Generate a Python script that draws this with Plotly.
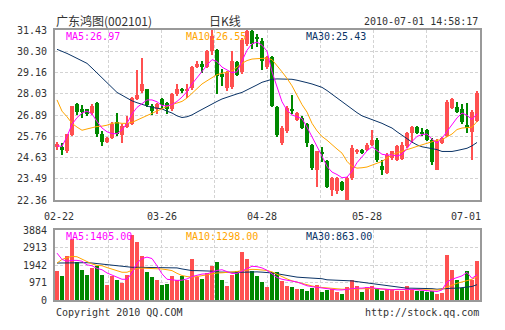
import plotly.graph_objects as go

# ---------------- data ----------------
date_labels = ['02-22', '03-26', '04-28', '05-28', '07-01']
date_label_idx = [0, 21, 41, 62, 84]

opens = [25.21, 25.21, 24.95, 25.83, 27.46, 27.19, 27.19, 27.01, 27.55, 25.89,
         25.46, 25.67, 26.52, 25.85, 26.27, 26.40, 27.73, 28.17, 28.26, 27.40,
         27.19, 27.73, 27.53, 27.19, 27.99, 28.30, 28.15, 28.32, 29.46, 29.64,
         29.43, 30.29, 30.36, 29.07, 28.35, 28.40, 29.70, 29.20, 30.68, 31.40,
         31.05, 30.86, 29.44, 29.98, 27.30, 25.40, 26.03, 27.22, 26.65, 26.76,
         26.40, 25.28, 23.97, 24.88, 24.42, 22.90, 22.85, 23.34, 22.38, 23.52,
         24.90, 25.04, 25.04, 25.31, 25.58, 24.15, 23.79, 24.60, 24.51, 24.55,
         25.22, 25.94, 26.24, 25.99, 26.12, 25.58, 23.97, 25.40, 25.76, 27.28,
         27.32, 27.19, 26.38, 26.00, 26.56]
highs = [25.46, 25.40, 25.90, 27.40, 27.55, 27.41, 27.22, 27.46, 27.60, 26.03,
         25.72, 26.50, 26.98, 26.40, 26.83, 27.85, 29.28, 29.96, 28.30, 27.49,
         27.55, 27.80, 27.60, 28.08, 28.53, 28.35, 28.53, 29.50, 29.78, 29.78,
         30.35, 31.43, 30.40, 29.34, 29.25, 30.30, 29.75, 31.00, 31.43, 31.43,
         31.20, 31.00, 30.05, 30.05, 27.40, 26.30, 27.35, 27.95, 27.05, 26.85,
         26.45, 25.35, 25.00, 25.20, 24.50, 23.60, 23.60, 23.40, 23.60, 25.30,
         25.10, 25.10, 25.40, 26.12, 25.65, 24.50, 24.85, 25.00, 25.30, 25.45,
         26.00, 26.30, 26.30, 26.20, 26.15, 25.65, 25.60, 25.72, 27.70, 27.80,
         27.60, 27.50, 27.55, 27.15, 28.15]
lows = [25.01, 24.78, 24.86, 25.80, 26.89, 26.76, 26.85, 26.92, 25.70, 25.22,
        25.40, 25.60, 25.79, 25.40, 26.21, 26.35, 27.68, 28.08, 27.30, 26.89,
        26.95, 27.20, 26.96, 27.13, 27.90, 28.08, 27.80, 28.25, 29.40, 29.16,
        29.40, 30.10, 27.99, 28.44, 28.20, 28.30, 28.95, 29.10, 30.60, 30.40,
        30.50, 29.30, 29.35, 27.30, 25.70, 25.30, 25.95, 26.95, 26.55, 26.15,
        25.20, 23.95, 23.08, 24.40, 23.00, 22.60, 22.70, 22.85, 22.36, 23.45,
        24.80, 24.80, 25.00, 25.25, 24.40, 23.70, 23.75, 24.50, 24.45, 24.50,
        25.15, 25.40, 25.90, 25.80, 25.50, 24.25, 23.95, 25.35, 25.70, 27.20,
        27.00, 26.40, 25.94, 24.50, 26.50]
closes = [25.35, 25.01, 25.87, 27.37, 27.06, 27.10, 26.95, 27.37, 25.89, 25.43,
          25.67, 26.44, 25.89, 26.33, 26.48, 27.78, 27.94, 28.57, 27.42, 27.10,
          27.46, 27.42, 27.19, 27.99, 28.30, 28.17, 28.30, 29.48, 29.64, 29.43,
          30.32, 31.13, 28.98, 28.92, 29.18, 29.78, 29.05, 30.90, 31.40, 30.70,
          31.00, 29.78, 29.98, 27.35, 25.85, 26.21, 27.28, 27.15, 26.98, 26.21,
          25.40, 24.06, 24.95, 24.82, 23.08, 23.52, 23.52, 22.90, 23.52, 25.13,
          25.04, 24.86, 25.31, 25.58, 24.51, 23.97, 24.78, 24.95, 25.22, 25.31,
          25.94, 26.24, 25.94, 25.90, 25.58, 24.40, 25.50, 25.67, 27.60, 27.73,
          27.06, 26.51, 26.20, 27.05, 28.08]

ma5 = [25.25, 25.22, 25.75, 26.40, 26.75, 27.00, 27.10, 26.95, 26.55, 26.20,
       26.00, 25.90, 25.90, 26.10, 26.45, 26.95, 27.30, 27.50, 27.70, 27.70,
       27.60, 27.40, 27.38, 27.45, 27.62, 27.85, 28.15, 28.55, 28.90, 29.20,
       29.55, 29.85, 29.75, 29.45, 29.28, 29.15, 29.20, 29.75, 30.35, 30.70,
       30.78, 30.62, 30.30, 29.20, 28.45, 27.60, 27.15, 26.90, 26.80, 26.70,
       26.25, 25.75, 25.25, 24.70, 24.15, 23.85, 23.72, 23.55, 23.58, 23.90,
       24.35, 24.65, 24.98, 25.20, 24.98, 24.80, 24.76, 24.77, 24.70, 24.80,
       25.10, 25.48, 25.75, 25.85, 25.88, 25.60, 25.40, 25.65, 26.02, 26.38,
       26.74, 27.00, 26.88, 26.65, 26.97]
ma10 = [27.70, 27.10, 26.80, 26.45, 26.25, 26.08, 26.15, 26.22, 26.28, 26.30,
        26.35, 26.45, 26.48, 26.45, 26.45, 26.50, 26.62, 26.78, 26.88, 27.00,
        27.12, 27.25, 27.35, 27.45, 27.52, 27.62, 27.80, 28.05, 28.35, 28.55,
        28.72, 28.90, 29.05, 29.12, 29.20, 29.25, 29.45, 29.65, 29.80, 29.88,
        29.90, 29.92, 29.93, 29.85, 29.55, 29.20, 28.85, 28.45, 27.95, 27.45,
        27.05, 26.45, 26.05, 25.75, 25.55, 25.30, 25.08, 24.86, 24.42, 24.15,
        24.06, 24.08, 24.12, 24.22, 24.32, 24.42, 24.60, 24.77, 24.88, 24.95,
        25.05, 25.13, 25.22, 25.31, 25.40, 25.49, 25.55, 25.58, 25.72, 25.88,
        26.12, 26.20, 26.22, 26.24, 26.55]
ma30 = [30.40, 30.30, 30.18, 30.05, 29.92, 29.80, 29.65, 29.40, 29.15, 28.90,
        28.62, 28.35, 28.10, 27.95, 27.78, 27.65, 27.55, 27.45, 27.38, 27.30,
        27.26, 27.22, 27.10, 27.00, 26.85, 26.76, 26.80, 26.90, 27.05, 27.20,
        27.35, 27.50, 27.62, 27.75, 27.85, 27.95, 28.02, 28.10, 28.22, 28.35,
        28.50, 28.64, 28.74, 28.80, 28.82, 28.82, 28.82, 28.80, 28.75, 28.70,
        28.62, 28.55, 28.47, 28.37, 28.20, 28.00, 27.80, 27.60, 27.40, 27.20,
        27.02, 26.85, 26.75, 26.67, 26.55, 26.45, 26.32, 26.20, 26.00, 25.80,
        25.62, 25.45, 25.30, 25.20, 25.15, 25.12, 25.05, 24.95, 24.95, 24.95,
        25.00, 25.05, 25.12, 25.25, 25.43]

volume = [1588, 1345, 2429, 3363, 2092, 1681, 1401, 1775, 1905, 1401,
          841, 1308, 1121, 971, 1401, 3587, 3213, 2429, 1532, 1252,
          1121, 841, 897, 1345, 1121, 1345, 1121, 2298, 1270, 1177,
          1494, 1905, 2092, 1083, 785, 1401, 1588, 2653, 2298, 1588,
          1345, 976, 710, 1532, 1532, 1028, 785, 710, 598, 598,
          523, 654, 841, 467, 561, 598, 467, 336, 710, 1084,
          785, 467, 710, 785, 598, 523, 598, 561, 523, 523,
          785, 561, 523, 523, 467, 523, 336, 374, 2522, 1681,
          1121, 654, 1588, 1121, 2149]
vma5 = [2600, 2250, 2150, 2200, 2200, 2150, 1950, 1900, 1750, 1680,
        1500, 1380, 1250, 1150, 1150, 1500, 2050, 2300, 2380, 2300,
        1900, 1450, 1150, 1100, 1090, 1100, 1170, 1300, 1380, 1440,
        1450, 1550, 1640, 1680, 1560, 1470, 1480, 1600, 1750, 1870,
        1850, 1780, 1650, 1450, 1250, 1150, 1080, 1050, 1000, 900,
        790, 740, 700, 660, 600, 580, 560, 560, 600, 650,
        660, 660, 690, 670, 640, 600, 580, 560, 590, 600,
        600, 590, 570, 550, 520, 500, 470, 560, 1000, 1150,
        1250, 1340, 1530, 1200, 1405]
vma10 = [2050, 2250, 2350, 2420, 2400, 2270, 2150, 2000, 1920, 1900,
         1800, 1720, 1620, 1540, 1540, 1640, 1760, 1770, 1760, 1760,
         1740, 1720, 1680, 1630, 1480, 1360, 1300, 1270, 1300, 1350,
         1410, 1480, 1500, 1510, 1520, 1540, 1580, 1630, 1670, 1700,
         1690, 1680, 1640, 1560, 1420, 1300, 1170, 1060, 980, 910,
         850, 780, 720, 690, 650, 620, 600, 600, 600, 610,
         620, 640, 650, 640, 620, 600, 590, 580, 570, 575,
         590, 590, 585, 570, 570, 560, 555, 600, 720, 800,
         930, 1000, 1065, 1150, 1298]
vma30 = [2050, 2060, 2070, 2080, 2088, 2080, 2070, 2052, 2020, 1997,
         1960, 1905, 1890, 1870, 1840, 1814, 1814, 1814, 1814, 1814,
         1814, 1814, 1814, 1814, 1780, 1722, 1680, 1630, 1630, 1630,
         1630, 1600, 1550, 1540, 1540, 1540, 1540, 1540, 1560, 1580,
         1560, 1545, 1532, 1500, 1457, 1400, 1350, 1310, 1270, 1250,
         1230, 1220, 1214, 1180, 1121, 1110, 1100, 1090, 1084, 1060,
         1020, 980, 934, 900, 860, 820, 785, 750, 710, 680,
         654, 654, 654, 654, 654, 630, 598, 620, 654, 654,
         654, 680, 710, 750, 850]

price_ticks = [22.36, 23.49, 24.63, 25.76, 26.89, 28.03, 29.16, 30.30, 31.43]
price_ticktext = ['22.36', '23.49', '24.63', '25.76', '26.89', '28.03', '29.16', '30.30', '31.43']
vol_ticks = [0, 971, 1942, 2913, 3884]
vol_ticktext = ['0', '971', '1942', '2913', '3884']

# ---------------- styling ----------------
W, H = 505, 330
L, R, T, B = 55, 480, 30, 300
RED, GREEN = '#FF5050', '#008800'
C_MA5, C_MA10, C_MA30 = '#FF00FF', '#FFA500', '#0A3366'
TXT = '#333333'
MONO = 'DejaVu Sans Mono'
CJK = 'Noto Sans CJK SC'
GRID = '#D3D3D3'

def px(x):
    return (x - L) / (R - L)

def py(y):
    return (B - y) / (B - T)

n = len(opens)
idx = list(range(n))
colors = [RED if c >= o else GREEN for o, c in zip(opens, closes)]
body_base = [min(o, c) for o, c in zip(opens, closes)]
body_h = [max(abs(c - o), 0.035) for o, c in zip(opens, closes)]
wick_h = [h - l for h, l in zip(highs, lows)]

fig = go.Figure()
fig.add_trace(go.Bar(x=idx, y=wick_h, base=lows, width=0.2,
                     marker=dict(color=colors, line=dict(width=0)),
                     xaxis='x', yaxis='y', hoverinfo='skip'))
fig.add_trace(go.Bar(x=idx, y=body_h, base=body_base, width=0.8,
                     marker=dict(color=colors, line=dict(width=0)),
                     xaxis='x', yaxis='y', hoverinfo='skip'))
for arr, col in [(ma30, C_MA30), (ma10, C_MA10), (ma5, C_MA5)]:
    fig.add_trace(go.Scatter(x=idx, y=arr, mode='lines',
                             line=dict(color=col, width=1),
                             xaxis='x', yaxis='y', hoverinfo='skip'))

fig.add_trace(go.Bar(x=idx, y=volume, width=0.8,
                     marker=dict(color=colors, line=dict(width=0)),
                     xaxis='x2', yaxis='y2', hoverinfo='skip'))
for arr, col in [(vma30, C_MA30), (vma10, C_MA10), (vma5, C_MA5)]:
    fig.add_trace(go.Scatter(x=idx, y=arr, mode='lines',
                             line=dict(color=col, width=1),
                             xaxis='x2', yaxis='y2', hoverinfo='skip'))

xr = [-0.4, n - 0.4]
grid_x = [xr[0] + (xr[1] - xr[0]) * k / 8 for k in range(1, 8)]
axis_common = dict(showline=True, mirror=True, linecolor='#999999', linewidth=2,
                   showgrid=True, gridcolor=GRID, griddash='3px,2px', gridwidth=1,
                   zeroline=False, fixedrange=True, ticks='')
fig.update_layout(
    width=W, height=H,
    margin=dict(l=L, r=W - R, t=T, b=H - B),
    paper_bgcolor='white', plot_bgcolor='white',
    showlegend=False, barmode='overlay', bargap=0,
    xaxis=dict(domain=[0, 1], range=xr, anchor='y', tickvals=grid_x,
               showticklabels=False, **axis_common),
    xaxis2=dict(domain=[0, 1], range=xr, anchor='y2', tickvals=grid_x,
                showticklabels=False, matches='x', **axis_common),
    yaxis=dict(domain=[py(200), 1], range=[price_ticks[0], price_ticks[-1]],
               tickvals=price_ticks, ticktext=price_ticktext,
               tickfont=dict(family=MONO, size=10, color=TXT),
               ticklabelstandoff=4, **axis_common),
    yaxis2=dict(domain=[0, py(230)], range=[vol_ticks[0], vol_ticks[-1]],
                tickvals=vol_ticks, ticktext=vol_ticktext,
                tickfont=dict(family=MONO, size=10, color=TXT),
                ticklabelstandoff=4, **axis_common),
)

ann = []
def text(t, x, y, anchor='left', color=TXT, family=MONO, size=10, xref='paper', xshift=0):
    ann.append(dict(text=t, x=x, y=y, xref=xref, yref='paper', xanchor=anchor,
                    yanchor='middle', showarrow=False, xshift=xshift,
                    font=dict(family=family, size=size, color=color)))

text('广东鸿图(002101)', px(54), py(21), family=CJK, size=12)
text('日K线', px(225), py(21), anchor='center', family=CJK, size=12)
text('2010-07-01 14:58:17', px(480), py(22), anchor='right')
text('MA5:26.97', px(64), py(37), color=C_MA5)
text('MA10:26.55', px(184), py(37), color=C_MA10)
text('MA30:25.43', px(304), py(37), color=C_MA30)
text('MA5:1405.00', px(64), py(237), color=C_MA5)
text('MA10:1298.00', px(184), py(237), color=C_MA10)
text('MA30:863.00', px(304), py(237), color=C_MA30)
for lbl, i in zip(date_labels, date_label_idx):
    if i == date_label_idx[-1]:
        text(lbl, xr[1], py(216), anchor='right', xref='x', xshift=3)
    else:
        text(lbl, i, py(216), anchor='center', xref='x', xshift=2 if i == 0 else 0)
text('Copyright 2010 QQ.COM', px(54), py(312))
text('http://stock.qq.com', px(481), py(312), anchor='right')
fig.update_layout(annotations=ann)

fig.write_html('out.html')
